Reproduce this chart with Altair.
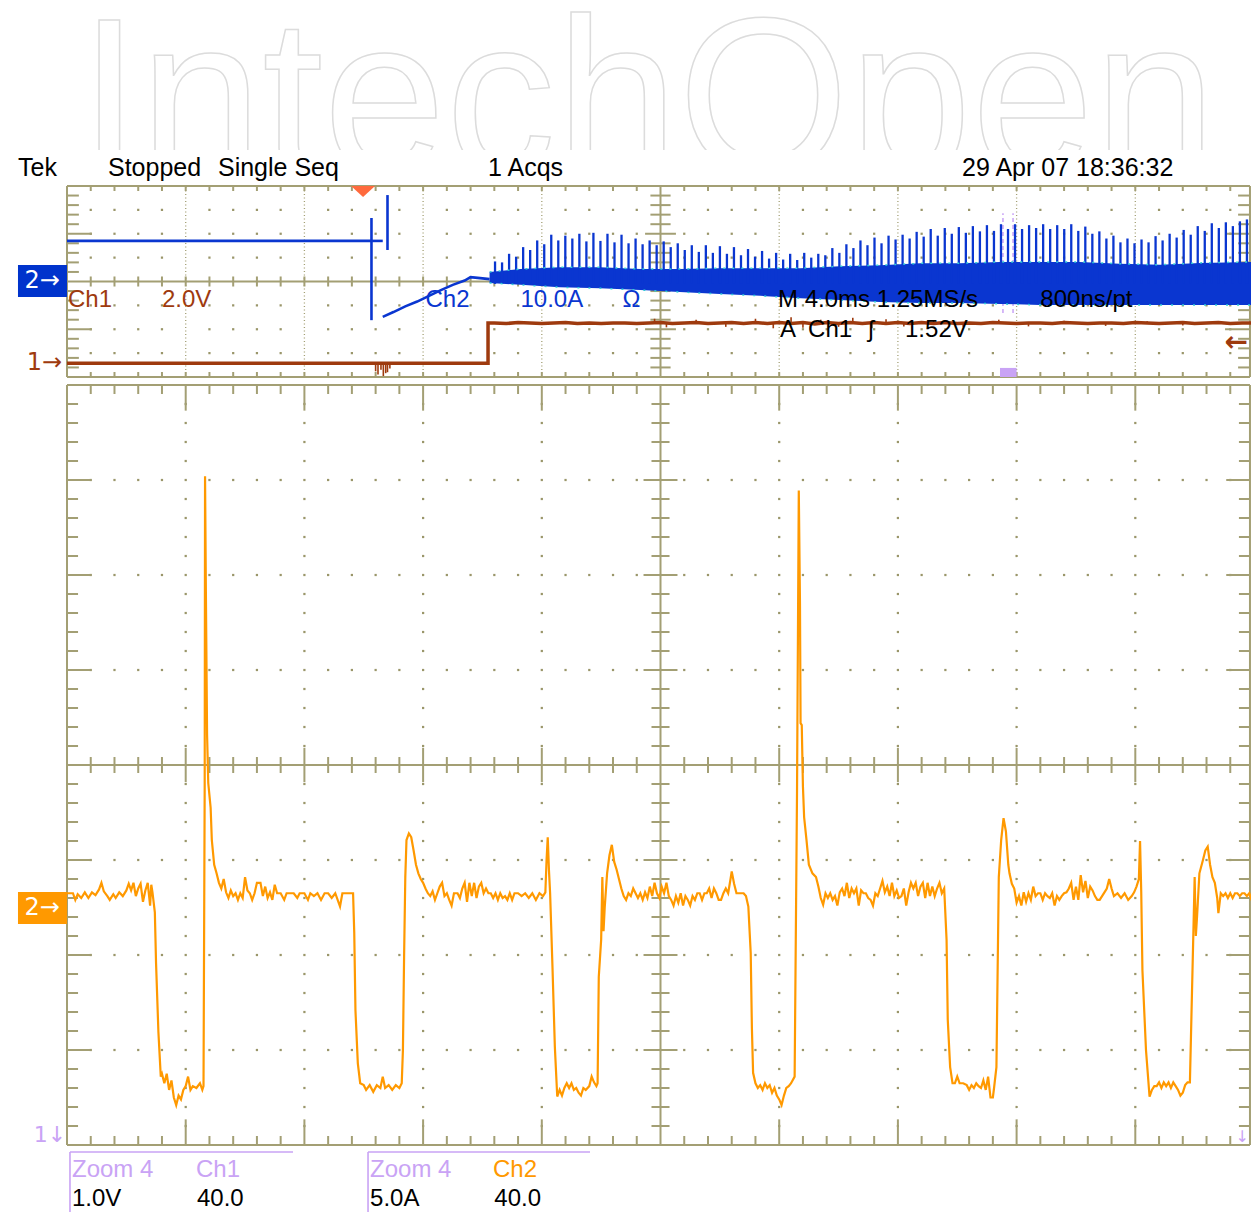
import altair as alt
import pandas as pd

# ---------------- colours / fonts ----------------
FONT = "Liberation Sans"
ARROW_FONT = "DejaVu Sans"
GRID = "#a39f74"
DOT = "#9a966a"
BLUE = "#0a36d0"
CYAN = "#30cfd6"
BROWN = "#9e3a0e"
ORANGE = "#ff9900"
LILAC = "#c9a3f5"
TRIG = "#ff6a3d"

# ---------------- scale geometry (in scope divisions) ----------------
X_DOMAIN = [-0.4971, 9.9747]       # horizontal divisions (0..10 = graticule)
TOP_DOMAIN = [-17.5497, 7.7277]    # overview window, 0..4 = graticule
BOT_DOMAIN = [-0.7368, 11.9684]    # zoom window, 0..8 = graticule
RIGHT_EDGE = 9.966                 # right border, kept inside the page
W, H = 1243, 1207

# ---------------- data: overview window ----------------
# Ch1 (brown): low level, step, high level sampled every 0.1 div
CH1_LOW = [(0.00, 0.29), (3.547, 0.29), (3.547, 1.13)]
CH1_HIGH_START = 3.6
CH1_HIGH_STEP = 0.1
CH1_HIGH = [1.13, 1.12, 1.14, 1.13, 1.12, 1.13, 1.14, 1.12, 1.13, 1.12,
            1.13, 1.13, 1.12, 1.13, 1.14, 1.12, 1.13, 1.14, 1.12, 1.13,
            1.14, 1.12, 1.14, 1.12, 1.14, 1.12, 1.14, 1.11, 1.14, 1.12,
            1.14, 1.12, 1.14, 1.12, 1.14, 1.12, 1.14, 1.12, 1.14, 1.12,
            1.13, 1.12, 1.14, 1.13, 1.12, 1.13, 1.13, 1.12, 1.14, 1.13,
            1.12, 1.13, 1.13, 1.12, 1.14, 1.13, 1.12, 1.13, 1.14, 1.12,
            1.13, 1.14, 1.12, 1.13, 1.13]
CH1_NOISE_T = [4.95, 5.05, 5.30, 5.55, 5.80, 5.95, 6.10, 6.20, 6.35, 6.50, 6.62,
               6.78, 6.90, 7.05, 7.30, 7.55, 7.85, 8.10, 8.40, 8.75, 9.10, 9.40]
CH1_NOISE_V = [1.22, 1.04, 1.20, 1.05, 1.22, 1.02, 1.25, 1.03, 1.20, 1.05, 1.24,
               1.02, 1.21, 1.06, 1.19, 1.05, 1.20, 1.06, 1.18, 1.07, 1.17, 1.08]
CH1_GLITCH_T = [2.60, 2.62, 2.645, 2.665, 2.685, 2.70, 2.72]
CH1_GLITCH_V = [0.12, 0.05, 0.15, 0.02, 0.08, 0.10, 0.18]

# Ch2 (blue) before the burst
CH2_PRE = [(0.00, 2.85), (2.57, 2.85)]
CH2_GLITCH_A = [(2.565, 3.33), (2.565, 1.19)]
CH2_TAIL = [(2.57, 2.85), (2.66, 2.85)]
CH2_GLITCH_B = [(2.70, 3.81), (2.70, 2.66)]
CH2_RAMP = [(2.66, 1.26), (2.75, 1.36), (2.85, 1.48), (2.95, 1.58), (3.05, 1.70),
            (3.15, 1.82), (3.25, 1.93), (3.35, 2.02), (3.40, 2.09), (3.48, 2.07), (3.56, 2.05)]

# Ch2 dense band during switching
BAND_X = [3.56, 3.82, 4.15, 4.49, 4.83, 5.16, 5.50, 5.84, 6.18, 6.51,
          6.85, 7.19, 7.52, 7.86, 8.20, 8.53, 8.87, 9.21, 9.55, 10.0]
BAND_HI = [2.20, 2.26, 2.30, 2.30, 2.26, 2.26, 2.28, 2.28, 2.28, 2.32,
           2.34, 2.38, 2.38, 2.41, 2.41, 2.41, 2.37, 2.35, 2.39, 2.41]
BAND_LO = [1.97, 1.93, 1.88, 1.86, 1.82, 1.78, 1.74, 1.70, 1.65, 1.61,
           1.57, 1.55, 1.55, 1.53, 1.51, 1.51, 1.51, 1.51, 1.51, 1.51]

# Ch2 current spikes (one per switching period)
SPIKE_START = 3.606
SPIKE_PERIOD = 0.0592
SPIKE_TOP = [2.42, 2.40, 2.58, 2.52, 2.72, 2.66, 2.86, 2.78, 2.98, 2.86,
             2.96, 2.90, 3.00, 2.84, 3.02, 2.85, 3.00, 2.82, 2.98, 2.80,
             2.90, 2.78, 2.86, 2.76, 2.84, 2.72, 2.80, 2.66, 2.76, 2.62,
             2.76, 2.60, 2.74, 2.58, 2.72, 2.55, 2.68, 2.52, 2.64, 2.48,
             2.60, 2.46, 2.58, 2.45, 2.60, 2.50, 2.58, 2.55, 2.70, 2.60,
             2.78, 2.70, 2.86, 2.76, 2.92, 2.80, 2.96, 2.88, 2.98, 2.90,
             3.04, 2.94, 3.10, 2.96, 3.12, 3.00, 3.14, 3.02, 3.16, 3.05,
             3.18, 3.06, 3.20, 3.10, 3.20, 3.10, 3.18, 3.12, 3.20, 3.10,
             3.18, 3.10, 3.20, 3.06, 3.15, 3.00, 3.05, 2.90, 2.96, 2.82,
             2.90, 2.80, 2.88, 2.82, 2.95, 2.86, 3.00, 2.92, 3.08, 2.98,
             3.16, 3.06, 3.22, 3.12, 3.24, 3.16, 3.26, 3.30]
SPIKE_BASE = 1.95

# ---------------- data: zoom window (Ch2 current, orange) ----------------
ZOOM_SEG_1 = [(0.00, 2.65), (0.05, 2.65), (0.07, 2.58), (0.09, 2.64), (0.12, 2.60), (0.15, 2.66),
              (0.18, 2.60), (0.21, 2.66), (0.24, 2.63), (0.27, 2.69), (0.29, 2.76), (0.31, 2.67),
              (0.34, 2.62), (0.36, 2.58), (0.39, 2.64), (0.41, 2.60), (0.44, 2.66), (0.47, 2.62),
              (0.50, 2.68), (0.52, 2.75), (0.54, 2.68), (0.56, 2.76), (0.58, 2.62), (0.60, 2.70),
              (0.62, 2.75), (0.64, 2.56), (0.66, 2.68), (0.68, 2.76), (0.70, 2.52), (0.71, 2.74),
              (0.72, 2.66), (0.74, 2.45), (0.75, 1.92), (0.77, 1.19), (0.79, 0.72), (0.80, 0.75),
              (0.82, 0.65), (0.84, 0.75), (0.86, 0.58), (0.88, 0.68), (0.90, 0.50), (0.92, 0.42),
              (0.94, 0.52), (0.96, 0.48), (0.98, 0.58), (1.00, 0.62), (1.02, 0.72), (1.04, 0.58),
              (1.06, 0.62), (1.09, 0.60), (1.12, 0.65), (1.14, 0.58), (1.15, 0.62), (1.16, 3.80),
              (1.163, 7.04), (1.17, 5.82), (1.18, 4.32), (1.19, 3.81), (1.21, 3.55), (1.22, 3.21),
              (1.24, 2.95), (1.26, 2.86), (1.28, 2.76), (1.30, 2.70), (1.32, 2.80), (1.34, 2.66),
              (1.36, 2.60), (1.38, 2.68), (1.40, 2.62), (1.42, 2.65)]
ZOOM_SEG_2 = [(1.44, 2.58), (1.46, 2.65), (1.48, 2.60), (1.50, 2.82), (1.52, 2.68), (1.54, 2.65),
              (1.56, 2.58), (1.58, 2.65), (1.60, 2.76), (1.63, 2.76), (1.65, 2.62), (1.67, 2.72),
              (1.69, 2.60), (1.71, 2.66), (1.73, 2.58), (1.75, 2.74), (1.77, 2.65), (1.80, 2.65),
              (1.83, 2.58), (1.85, 2.65), (1.88, 2.65), (1.91, 2.65), (1.94, 2.60), (1.96, 2.65),
              (2.00, 2.65), (2.03, 2.58), (2.05, 2.65), (2.08, 2.62), (2.11, 2.65), (2.14, 2.58),
              (2.17, 2.65), (2.20, 2.65), (2.23, 2.60), (2.26, 2.65), (2.30, 2.51), (2.32, 2.65),
              (2.38, 2.65), (2.41, 2.65), (2.42, 2.23), (2.43, 1.42), (2.45, 0.86), (2.47, 0.65),
              (2.50, 0.63), (2.52, 0.58), (2.55, 0.63), (2.58, 0.56), (2.61, 0.63), (2.64, 0.60),
              (2.66, 0.72), (2.68, 0.60), (2.71, 0.63), (2.74, 0.58), (2.77, 0.63), (2.80, 0.60),
              (2.82, 0.65), (2.83, 1.00), (2.84, 2.00), (2.85, 2.82), (2.86, 3.21), (2.88, 3.28),
              (2.90, 3.24), (2.92, 3.10), (2.94, 2.95), (2.96, 2.86), (2.98, 2.80), (3.00, 2.76),
              (3.02, 2.70), (3.04, 2.65)]
ZOOM_SEG_3 = [(3.06, 2.62), (3.08, 2.67), (3.10, 2.58), (3.12, 2.65), (3.14, 2.72), (3.16, 2.76),
              (3.18, 2.62), (3.20, 2.65), (3.22, 2.58), (3.24, 2.52), (3.26, 2.65), (3.29, 2.65),
              (3.31, 2.60), (3.33, 2.70), (3.35, 2.76), (3.37, 2.56), (3.39, 2.76), (3.41, 2.62),
              (3.43, 2.76), (3.45, 2.60), (3.47, 2.72), (3.49, 2.76), (3.51, 2.65), (3.53, 2.70),
              (3.55, 2.65), (3.57, 2.65), (3.59, 2.60), (3.61, 2.65), (3.63, 2.58), (3.65, 2.65),
              (3.67, 2.60), (3.69, 2.62), (3.71, 2.58), (3.73, 2.65), (3.75, 2.58), (3.77, 2.65),
              (3.80, 2.65), (3.83, 2.62), (3.86, 2.65), (3.89, 2.60), (3.92, 2.65), (3.95, 2.58),
              (3.98, 2.65), (4.01, 2.62), (4.03, 2.66), (4.04, 3.00), (4.05, 3.24), (4.06, 2.90),
              (4.07, 2.65), (4.09, 1.87), (4.11, 1.03), (4.13, 0.51), (4.15, 0.58), (4.17, 0.52),
              (4.19, 0.60), (4.21, 0.65), (4.23, 0.60), (4.25, 0.65), (4.27, 0.58), (4.29, 0.60),
              (4.31, 0.55), (4.33, 0.52), (4.35, 0.60), (4.37, 0.58), (4.40, 0.62), (4.42, 0.72),
              (4.44, 0.66), (4.46, 0.62), (4.47, 0.65), (4.48, 1.77), (4.50, 2.16), (4.51, 2.82),
              (4.52, 2.25), (4.53, 2.50), (4.55, 2.86), (4.57, 3.05), (4.59, 3.16), (4.61, 2.98),
              (4.63, 2.90), (4.65, 2.80), (4.67, 2.70), (4.69, 2.62), (4.71, 2.58), (4.73, 2.65)]
ZOOM_SEG_4 = [(4.75, 2.62), (4.77, 2.70), (4.79, 2.65), (4.81, 2.60), (4.83, 2.65), (4.85, 2.58),
              (4.87, 2.66), (4.89, 2.60), (4.91, 2.72), (4.93, 2.62), (4.95, 2.76), (4.97, 2.65),
              (4.99, 2.60), (5.01, 2.72), (5.03, 2.65), (5.05, 2.76), (5.07, 2.62), (5.09, 2.58),
              (5.11, 2.52), (5.13, 2.62), (5.15, 2.55), (5.17, 2.65), (5.19, 2.52), (5.21, 2.62),
              (5.23, 2.58), (5.25, 2.52), (5.27, 2.62), (5.29, 2.58), (5.31, 2.65), (5.33, 2.65),
              (5.35, 2.58), (5.37, 2.65), (5.39, 2.65), (5.41, 2.70), (5.43, 2.60), (5.45, 2.70),
              (5.47, 2.65), (5.49, 2.58), (5.51, 2.58), (5.53, 2.65), (5.55, 2.70), (5.57, 2.65),
              (5.59, 2.80), (5.60, 2.88), (5.62, 2.75), (5.64, 2.65), (5.67, 2.65), (5.70, 2.65),
              (5.72, 2.62), (5.74, 2.51), (5.76, 2.02), (5.77, 1.23), (5.78, 0.76), (5.80, 0.65),
              (5.82, 0.60), (5.84, 0.63), (5.86, 0.58), (5.88, 0.65), (5.90, 0.60), (5.92, 0.63),
              (5.94, 0.55), (5.96, 0.60), (5.98, 0.52), (6.00, 0.48), (6.02, 0.42), (6.04, 0.52),
              (6.06, 0.60), (6.08, 0.62), (6.10, 0.65), (6.13, 0.72), (6.15, 3.70), (6.165, 6.89),
              (6.175, 5.70), (6.18, 4.44), (6.19, 4.42), (6.20, 3.77), (6.21, 3.45), (6.23, 3.21),
              (6.25, 2.95), (6.28, 2.86), (6.31, 2.82), (6.33, 2.72), (6.35, 2.60), (6.37, 2.53),
              (6.39, 2.65)]
ZOOM_SEG_5 = [(6.41, 2.60), (6.43, 2.65), (6.45, 2.58), (6.47, 2.62), (6.49, 2.52), (6.51, 2.66),
              (6.53, 2.70), (6.55, 2.62), (6.57, 2.76), (6.59, 2.60), (6.61, 2.70), (6.63, 2.65),
              (6.65, 2.70), (6.67, 2.52), (6.69, 2.68), (6.71, 2.65), (6.73, 2.65), (6.75, 2.60),
              (6.77, 2.58), (6.79, 2.52), (6.81, 2.65), (6.83, 2.62), (6.85, 2.70), (6.87, 2.78),
              (6.89, 2.66), (6.91, 2.72), (6.93, 2.62), (6.95, 2.76), (6.97, 2.62), (6.99, 2.68),
              (7.01, 2.60), (7.03, 2.62), (7.05, 2.70), (7.07, 2.52), (7.09, 2.66), (7.11, 2.76),
              (7.13, 2.70), (7.15, 2.76), (7.17, 2.62), (7.19, 2.72), (7.21, 2.76), (7.23, 2.60),
              (7.25, 2.76), (7.27, 2.62), (7.29, 2.72), (7.31, 2.62), (7.33, 2.70), (7.35, 2.76),
              (7.37, 2.65), (7.39, 2.70), (7.41, 2.16), (7.42, 1.32), (7.44, 0.82), (7.46, 0.65),
              (7.48, 0.65), (7.50, 0.72), (7.52, 0.65), (7.55, 0.65), (7.58, 0.63), (7.60, 0.58),
              (7.62, 0.63), (7.64, 0.60), (7.66, 0.65), (7.68, 0.62), (7.70, 0.60), (7.72, 0.68),
              (7.74, 0.58), (7.76, 0.72), (7.78, 0.50), (7.80, 0.50), (7.81, 0.60), (7.83, 0.82),
              (7.84, 1.82), (7.85, 2.82), (7.87, 3.21), (7.89, 3.44), (7.91, 3.30), (7.93, 2.95),
              (7.94, 2.86), (7.96, 2.75), (7.98, 2.70), (8.00, 2.55), (8.02, 2.62)]
ZOOM_SEG_6 = [(8.04, 2.52), (8.06, 2.66), (8.08, 2.56), (8.10, 2.65), (8.12, 2.58), (8.14, 2.72),
              (8.16, 2.62), (8.18, 2.65), (8.20, 2.65), (8.22, 2.58), (8.24, 2.65), (8.26, 2.62),
              (8.28, 2.60), (8.30, 2.65), (8.32, 2.52), (8.34, 2.62), (8.36, 2.58), (8.38, 2.62),
              (8.40, 2.65), (8.42, 2.66), (8.44, 2.70), (8.46, 2.76), (8.48, 2.58), (8.50, 2.72),
              (8.52, 2.58), (8.54, 2.84), (8.56, 2.66), (8.58, 2.78), (8.60, 2.60), (8.62, 2.72),
              (8.64, 2.68), (8.66, 2.62), (8.68, 2.58), (8.70, 2.58), (8.72, 2.62), (8.74, 2.66),
              (8.76, 2.70), (8.78, 2.80), (8.80, 2.70), (8.82, 2.62), (8.85, 2.65), (8.88, 2.60),
              (8.91, 2.65), (8.94, 2.58), (8.97, 2.62), (8.99, 2.66), (9.01, 2.72), (9.03, 2.80),
              (9.04, 3.20), (9.05, 2.66), (9.06, 1.84), (9.09, 1.00), (9.12, 0.51), (9.14, 0.58),
              (9.16, 0.62), (9.18, 0.62), (9.20, 0.66), (9.22, 0.60), (9.24, 0.66), (9.26, 0.62),
              (9.28, 0.66), (9.30, 0.60), (9.32, 0.66), (9.34, 0.62), (9.36, 0.58), (9.38, 0.52),
              (9.40, 0.55), (9.42, 0.63), (9.44, 0.66), (9.46, 0.66), (9.48, 1.74), (9.50, 2.82),
              (9.51, 2.20), (9.52, 2.40), (9.54, 2.86), (9.57, 3.00), (9.59, 3.10), (9.61, 3.14),
              (9.63, 2.95), (9.65, 2.82), (9.67, 2.76), (9.69, 2.60), (9.70, 2.44), (9.72, 2.65),
              (9.74, 2.62), (9.76, 2.65), (9.78, 2.60), (9.80, 2.65), (9.82, 2.60), (9.84, 2.65),
              (9.86, 2.65), (9.88, 2.62), (9.90, 2.65), (9.92, 2.65), (9.94, 2.62), (9.96, 2.65),
              (9.98, 2.58), (10.0, 2.65)]

# ---------------- encoding helpers ----------------
def X(f):
    return alt.X(f + ":Q", scale=alt.Scale(domain=X_DOMAIN, nice=False, zero=False), axis=None)


def YT(f):
    return alt.Y(f + ":Q", scale=alt.Scale(domain=TOP_DOMAIN, nice=False, zero=False), axis=None)


def YB(f):
    return alt.Y(f + ":Q", scale=alt.Scale(domain=BOT_DOMAIN, nice=False, zero=False), axis=None)


def rules(segs, yfun, color, width, dash=None, opacity=1.0):
    df = pd.DataFrame(segs, columns=["x", "y", "x2", "y2"])
    kw = dict(color=color, strokeWidth=width, opacity=opacity)
    if dash:
        kw["strokeDash"] = dash
    return alt.Chart(df).mark_rule(**kw).encode(
        x=X("x"), x2=alt.X2("x2:Q"), y=yfun("y"), y2=alt.Y2("y2:Q"))


def vticks(ts, vs, base, yfun, color, width):
    df = pd.DataFrame({"t": ts, "v": vs, "base": [base] * len(ts)})
    return alt.Chart(df).mark_rule(color=color, strokeWidth=width).encode(
        x=X("t"), y=yfun("v"), y2=alt.Y2("base:Q"))


def dots(pts, yfun):
    df = pd.DataFrame(pts, columns=["x", "y"])
    return alt.Chart(df).mark_square(size=5, color=DOT, opacity=1).encode(x=X("x"), y=yfun("y"))


def traces(named, yfun, color, width):
    rows = []
    for name, pts in named:
        for t, v in pts:
            rows.append((name, t, v))
    df = pd.DataFrame(rows, columns=["seg", "t", "v"])
    df["i"] = range(len(df))
    return alt.Chart(df).mark_line(color=color, strokeWidth=width).encode(
        x=X("t"), y=yfun("v"), detail="seg:N", order="i:Q")


def texts(rows, yfun, color, size=24, align="center", font=FONT, baseline="middle", **kw):
    df = pd.DataFrame(rows, columns=["x", "y", "text"])
    return alt.Chart(df).mark_text(align=align, baseline=baseline, fontSize=size,
                                   font=font, color=color, **kw).encode(
        x=X("x"), y=yfun("y"), text="text:N")


def boxes(rows, yfun, color, **kw):
    df = pd.DataFrame(rows, columns=["x", "x2", "y", "y2"])
    return alt.Chart(df).mark_rect(color=color, **kw).encode(
        x=X("x"), x2=alt.X2("x2:Q"), y=yfun("y"), y2=alt.Y2("y2:Q"))


# ---------------- graticules ----------------
R = RIGHT_EDGE
top_solid = [(0, 0, R, 0), (0, 4, R, 4), (0, 0, 0, 4), (R, 0, R, 4), (5, 0, 5, 4), (0, 2, R, 2)]
for k in range(1, 20):
    if k == 10:
        continue
    y = k * 0.2
    major = k % 5 == 0
    L = 0.21 if major else 0.10
    top_solid += [(0, y, L, y), (R - L, y, R, y)]
    c = 0.13 if major else 0.085
    top_solid.append((5 - c, y, 5 + c, y))
for k in range(1, 50):
    if k == 25:
        continue
    x = k * 0.2
    top_solid += [(x, 4, x, 3.895), (x, 0, x, 0.105), (x, 1.895, x, 2.105)]
top_dotted = [(x, 0, x, 4) for x in (1, 2, 3, 4, 6, 7, 8, 9)]
top_dots = [(k * 0.2, y) for k in range(1, 50) for y in (0.5, 1, 1.5, 2.5, 3, 3.5) if k % 5]

bot_solid = [(0, 0, R, 0), (0, 8, R, 8), (0, 0, 0, 8), (R, 0, R, 8), (5, 0, 5, 8), (0, 4, R, 4)]
for k in range(1, 40):
    if k == 20:
        continue
    y = k * 0.2
    major = k % 5 == 0
    L = 0.20 if major else 0.093
    bot_solid += [(0, y, L, y), (R - L, y, R, y)]
    c = 0.143 if major else 0.076
    bot_solid.append((5 - c, y, 5 + c, y))
for k in range(1, 50):
    if k == 25:
        continue
    x = k * 0.2
    major = k % 5 == 0
    L = 0.27 if major else 0.095
    bot_solid += [(x, 0, x, L), (x, 8 - L, x, 8)]
    c = 0.18 if major else 0.084
    bot_solid.append((x, 4 - c, x, 4 + c))
bot_dots = ([(k * 0.2, y) for k in range(1, 50) for y in (1, 2, 3, 5, 6, 7)] +
            [(x, k * 0.2) for x in (1, 2, 3, 4, 6, 7, 8, 9) for k in range(1, 40) if k % 5])

# ---------------- layers ----------------
layers = []

# watermark + cover
layers.append(texts([(4.89, 4.29, "IntechOpen")], YT, "white", size=220, baseline="alphabetic",
                    fill="white", stroke="#dcdcdc", strokeWidth=1.5))
layers.append(boxes([(X_DOMAIN[0], X_DOMAIN[1], TOP_DOMAIN[0], 4.754)], YT, "white"))

# graticules
layers.append(dots(top_dots, YT))
layers.append(dots(bot_dots, YB))
layers.append(rules(top_dotted, YT, GRID, 1.3, dash=[1, 2.5]))
layers.append(rules(top_solid, YT, GRID, 2))
layers.append(rules(bot_solid, YB, GRID, 2))

# overview window markers
layers.append(boxes([(7.86, 8.0, 0.0, 0.19)], YT, LILAC))
layers.append(rules([(7.885, 1.34, 7.885, 3.43), (7.97, 1.34, 7.97, 3.43)], YT, LILAC, 1.5, dash=[4, 3]))

# Ch1 brown trace
ch1_high = [(CH1_HIGH_START + i * CH1_HIGH_STEP, v) for i, v in enumerate(CH1_HIGH)]
layers.append(traces([("ch1", CH1_LOW + ch1_high)], YT, BROWN, 3.5))
layers.append(vticks(CH1_GLITCH_T, CH1_GLITCH_V, 0.29, YT, BROWN, 1.6))
layers.append(vticks(CH1_NOISE_T, CH1_NOISE_V, 1.13, YT, BROWN, 1.6))

# Ch2 blue: band, spikes, pre-burst line
band_df = pd.DataFrame({"x": BAND_X, "hi": BAND_HI, "lo": BAND_LO})
layers.append(alt.Chart(band_df).mark_area(color=BLUE, opacity=1).encode(
    x=X("x"), y=YT("hi"), y2=alt.Y2("lo:Q")))
spike_x = [SPIKE_START + i * SPIKE_PERIOD for i in range(len(SPIKE_TOP))]
layers.append(vticks(spike_x, SPIKE_TOP, SPIKE_BASE, YT, BLUE, 2.3))
layers.append(alt.Chart(band_df).mark_line(color=CYAN, strokeWidth=1.5, strokeDash=[2, 7]).encode(
    x=X("x"), y=YT("hi")))
layers.append(alt.Chart(band_df).mark_line(color=CYAN, strokeWidth=1.5, strokeDash=[2, 9]).encode(
    x=X("x"), y=YT("lo")))
layers.append(traces([("pre", CH2_PRE), ("ga", CH2_GLITCH_A), ("tail", CH2_TAIL),
                      ("gb", CH2_GLITCH_B), ("ramp", CH2_RAMP)], YT, BLUE, 2.6))

# zoom window orange trace
layers.append(traces([("z", ZOOM_SEG_1 + ZOOM_SEG_2 + ZOOM_SEG_3 + ZOOM_SEG_4 + ZOOM_SEG_5 + ZOOM_SEG_6)],
                     YB, ORANGE, 2.2))

# channel marker boxes
layers.append(boxes([(-0.413, 0.0, 1.675, 2.346)], YT, "#0033cc"))
layers.append(boxes([(-0.413, 0.0, 2.326, 2.663)], YB, ORANGE))
layers.append(texts([(-0.21, 2.01, "2→")], YT, "white", size=24, font=ARROW_FONT))
layers.append(texts([(-0.21, 2.495, "2→")], YB, "white", size=24, font=ARROW_FONT))
layers.append(texts([(-0.19, 0.29, "1→")], YT, BROWN, size=24, font=ARROW_FONT))
layers.append(texts([(9.85, 0.712, "←")], YT, BROWN, size=28, font=ARROW_FONT, fontWeight="bold"))
layers.append(texts([(-0.143, 0.105, "1↓")], YB, LILAC, size=22, font=ARROW_FONT))
layers.append(texts([(9.90, 0.084, "↓")], YB, LILAC, size=16, font=ARROW_FONT))

# trigger position marker
trig_df = pd.DataFrame({"x": [2.494], "y": [3.885]})
layers.append(alt.Chart(trig_df).mark_point(shape="M-1,-0.45L1,-0.45L0,0.45Z", size=576,
                                            filled=True, color=TRIG, opacity=1).encode(
    x=X("x"), y=YT("y")))

# header texts
layers.append(texts([(-0.413, 4.377, "Tek"), (0.345, 4.377, "Stopped"), (1.272, 4.377, "Single Seq"),
                     (3.547, 4.377, "1 Acqs"), (7.540, 4.377, "29 Apr 07 18:36:32")],
                    YT, "black", size=25, align="left"))
# readouts in the overview
layers.append(texts([(0.008, 1.613, "Ch1"), (0.800, 1.613, "2.0V")], YT, BROWN, align="left"))
layers.append(texts([(3.02, 1.613, "Ch2"), (3.82, 1.613, "10.0A"), (4.68, 1.613, "Ω")], YT, BLUE,
                    align="left"))
layers.append(texts([(5.99, 1.613, "M 4.0ms 1.25MS/s"), (8.20, 1.613, "800ns/pt"),
                     (6.007, 0.984, "A"), (6.243, 0.984, "Ch1"), (6.75, 0.984, "ʃ"),
                     (7.06, 0.984, "1.52V")], YT, "black", align="left"))

# zoom readouts at the bottom
layers.append(rules([(0.025, -0.074, 1.904, -0.074), (0.025, -0.074, 0.025, -0.705),
                     (2.536, -0.074, 4.406, -0.074), (2.536, -0.074, 2.536, -0.705)], YB, LILAC, 1.6))
layers.append(texts([(0.042, -0.263, "Zoom 4"), (1.087, -0.263, "Ch1"), (2.553, -0.263, "Zoom 4")],
                    YB, LILAC, align="left"))
layers.append(texts([(3.589, -0.263, "Ch2")], YB, ORANGE, align="left"))
layers.append(texts([(0.042, -0.568, "1.0V"), (1.095, -0.568, "40.0"), (2.553, -0.568, "5.0A"),
                     (3.60, -0.568, "40.0")], YB, "black", align="left"))

chart = alt.layer(*layers).resolve_scale(y="independent").properties(
    width=W, height=H, padding=0, background="white",
    autosize=alt.AutoSizeParams(type="none"),
).configure_view(stroke=None)

chart.save("out.html", embed_options={"renderer": "svg", "actions": False})
